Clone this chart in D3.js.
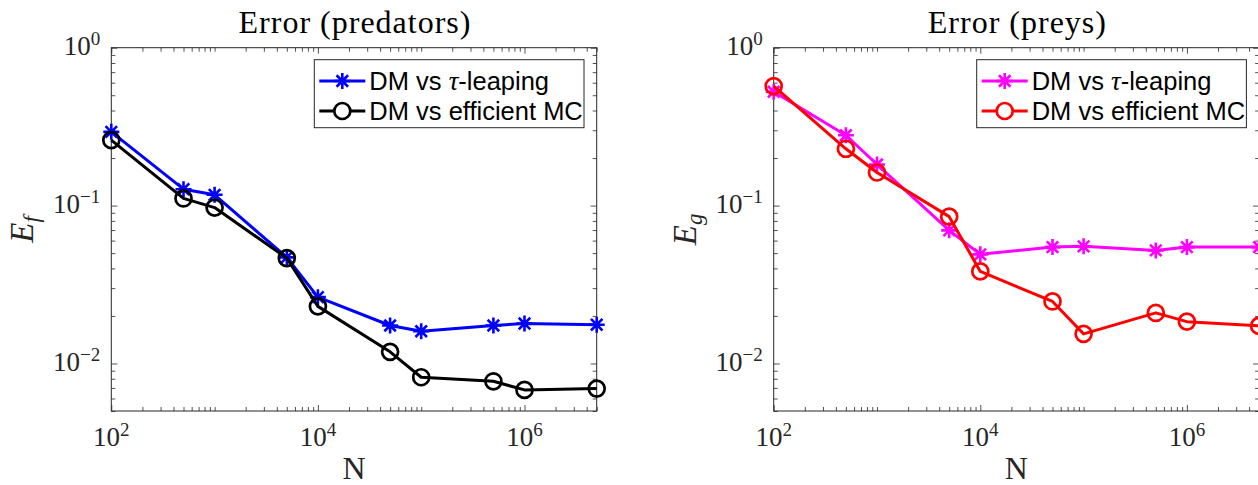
<!DOCTYPE html>
<html><head><meta charset="utf-8">
<script src="https://cdn.jsdelivr.net/npm/d3@7"></script>
<style>body{margin:0;background:#fff;overflow:hidden} svg{display:block}</style>
</head><body>
<svg id="chart" width="1258" height="485"></svg>
<script>
// ---- data ----
const Nvals = [100, 500, 1000, 5000, 10000, 50000, 100000, 500000, 1000000, 5000000];
const predTau = [0.293, 0.127, 0.117, 0.047, 0.0263, 0.0174, 0.0160, 0.0174, 0.0179, 0.0176];
const predMC  = [0.260, 0.111, 0.0971, 0.0465, 0.0230, 0.01185, 0.00818, 0.00771, 0.0068, 0.00693];
const preyTau = [0.526, 0.279, 0.182, 0.0697, 0.0491, 0.0546, 0.0552, 0.0520, 0.0546, 0.0546];
const preyMC  = [0.571, 0.229, 0.162, 0.0851, 0.0383, 0.0247, 0.0154, 0.0209, 0.0184, 0.0173];
const xMajorTicks = [1e2, 1e4, 1e6];
const xMajorExps = ["2", "4", "6"];
const yMajorTicks = [1, 0.1, 0.01];
const yMajorExps = ["0", "\u22121", "\u22122"];
const titles = ["Error (predators)", "Error (preys)"];
const yLabelSubs = ["f", "g"];
const xLabel = "N";
const legendTau = ["DM vs ", "\u03C4", "-leaping"];
const legendMC = "DM vs efficient MC";
const xDomain = [100, 5e6];
const yDomain = [0.005, 1];

// ---- layout ----
const svg = d3.select("#chart");
const W = 485.4, H = 363.3, top0 = 47.7;
const panels = [
  {x0: 111.3, tau: predTau, mc: predMC, cTau: "#0000ff", cMC: "#000000", title: titles[0], sub: yLabelSubs[0]},
  {x0: 773.7, tau: preyTau, mc: preyMC, cTau: "#ff00ff", cMC: "#ff0000", title: titles[1], sub: yLabelSubs[1]}
];
const axisColor = "#262626";
const serif = "'Liberation Serif', 'Times New Roman', serif";
const sans = "'Liberation Sans', Arial, Helvetica, sans-serif";

const x = d3.scaleLog().domain(xDomain).range([0, W]);
const y = d3.scaleLog().domain(yDomain).range([H, 0]);

const xMinor = [];
for (let k = 2; k <= 6; k++) for (let m = 1; m <= 9; m++) {
  const v = m * Math.pow(10, k);
  if (v <= xDomain[1] * 1.0001 && !xMajorTicks.some(t => Math.abs(t - v) / v < 1e-6)) xMinor.push(v);
}
const yMinor = [];
for (let k = -3; k <= -1; k++) for (let m = 1; m <= 9; m++) {
  const v = m * Math.pow(10, k);
  if (v >= yDomain[0] * 0.9999 && v <= 1 && !yMajorTicks.some(t => Math.abs(t - v) / v < 1e-6)) yMinor.push(v);
}

function starPath(r) {
  const d = r * 0.72;
  return `M${-r},0L${r},0M0,${-r}L0,${r}M${-d},${-d}L${d},${d}M${-d},${d}L${d},${-d}`;
}
const starR = 8, circR = 8, lw = 3;

panels.forEach(p => {
  const g = svg.append("g").attr("transform", `translate(${p.x0},${top0})`);

  g.append("rect").attr("width", W).attr("height", H).attr("fill", "#fff");

  const mk = (gen, tr) => {
    const a = g.append("g").attr("transform", tr).call(gen);
    a.select(".domain").remove();
    a.selectAll("line").attr("stroke", axisColor).attr("stroke-width", 0.8);
    a.selectAll("text").remove();
  };
  mk(d3.axisBottom(x).tickValues(xMajorTicks).tickSizeInner(-6).tickSizeOuter(0).tickFormat(""), `translate(0,${H})`);
  mk(d3.axisBottom(x).tickValues(xMinor).tickSizeInner(-4).tickSizeOuter(0).tickFormat(""), `translate(0,${H})`);
  mk(d3.axisTop(x).tickValues(xMajorTicks).tickSizeInner(-6).tickSizeOuter(0).tickFormat(""), `translate(0,0)`);
  mk(d3.axisTop(x).tickValues(xMinor).tickSizeInner(-4).tickSizeOuter(0).tickFormat(""), `translate(0,0)`);
  mk(d3.axisLeft(y).tickValues(yMajorTicks).tickSizeInner(-6).tickSizeOuter(0).tickFormat(""), `translate(0,0)`);
  mk(d3.axisLeft(y).tickValues(yMinor).tickSizeInner(-4).tickSizeOuter(0).tickFormat(""), `translate(0,0)`);
  mk(d3.axisRight(y).tickValues(yMajorTicks).tickSizeInner(-6).tickSizeOuter(0).tickFormat(""), `translate(${W},0)`);
  mk(d3.axisRight(y).tickValues(yMinor).tickSizeInner(-4).tickSizeOuter(0).tickFormat(""), `translate(${W},0)`);

  g.append("rect").attr("width", W).attr("height", H).attr("fill", "none")
    .attr("stroke", axisColor).attr("stroke-width", 1);

  xMajorTicks.forEach((t, i) => {
    const tx = g.append("text").attr("x", x(t)).attr("y", H + 35)
      .attr("text-anchor", "middle").attr("font-family", serif).attr("font-size", 27).attr("fill", axisColor);
    tx.append("tspan").text("10");
    tx.append("tspan").attr("dy", -10).attr("font-size", 19).text(xMajorExps[i]);
  });
  yMajorTicks.forEach((t, i) => {
    const tx = g.append("text").attr("x", -11).attr("y", y(t) + 7.4)
      .attr("text-anchor", "end").attr("font-family", serif).attr("font-size", 27).attr("fill", axisColor);
    tx.append("tspan").text("10");
    tx.append("tspan").attr("dy", -10).attr("font-size", 19).text(yMajorExps[i]);
  });

  g.append("text").attr("x", W / 2 + 1).attr("y", -15).attr("text-anchor", "middle")
    .attr("font-family", serif).attr("font-size", 32).attr("letter-spacing", 1).attr("fill", "#000").text(p.title);
  g.append("text").attr("x", W / 2).attr("y", 431).attr("text-anchor", "middle")
    .attr("font-family", serif).attr("font-size", 32).attr("fill", axisColor).text(xLabel);
  const yl = g.append("text").attr("transform", `translate(${-78},${H / 2}) rotate(-90)`)
    .attr("text-anchor", "middle").attr("font-family", serif).attr("font-style", "italic")
    .attr("font-size", 33).attr("fill", axisColor);
  yl.append("tspan").text("E");
  yl.append("tspan").attr("dy", 6).attr("font-size", 23).text(p.sub);

  const line = d3.line().x((d, i) => x(Nvals[i])).y(d => y(d));
  g.append("path").datum(p.tau).attr("d", line).attr("fill", "none")
    .attr("stroke", p.cTau).attr("stroke-width", lw).attr("stroke-linejoin", "round");
  g.selectAll(null).data(p.tau).enter().append("path")
    .attr("transform", (d, i) => `translate(${x(Nvals[i])},${y(d)})`)
    .attr("d", starPath(starR)).attr("fill", "none").attr("stroke", p.cTau).attr("stroke-width", 2.6);
  g.append("path").datum(p.mc).attr("d", line).attr("fill", "none")
    .attr("stroke", p.cMC).attr("stroke-width", lw).attr("stroke-linejoin", "round");
  g.selectAll(null).data(p.mc).enter().append("circle")
    .attr("cx", (d, i) => x(Nvals[i])).attr("cy", d => y(d)).attr("r", circR)
    .attr("fill", "none").attr("stroke", p.cMC).attr("stroke-width", 2.7);

  // legend
  const lg = g.append("g").attr("transform", `translate(${W - 12.7 - 269.7},12)`);
  lg.append("rect").attr("width", 269.7).attr("height", 68).attr("fill", "#fff")
    .attr("stroke", axisColor).attr("stroke-width", 1);
  const rows = [21.3, 51.3];
  lg.append("line").attr("x1", 5).attr("x2", 51).attr("y1", rows[0]).attr("y2", rows[0])
    .attr("stroke", p.cTau).attr("stroke-width", lw);
  lg.append("path").attr("transform", `translate(28,${rows[0]})`).attr("d", starPath(starR))
    .attr("fill", "none").attr("stroke", p.cTau).attr("stroke-width", 2.6);
  const t1 = lg.append("text").attr("x", 55).attr("y", rows[0] + 9)
    .attr("font-family", sans).attr("font-size", 25.5).attr("fill", "#000");
  t1.append("tspan").text(legendTau[0]);
  t1.append("tspan").attr("font-family", serif).attr("font-style", "italic").attr("font-size", 27).text(legendTau[1]);
  t1.append("tspan").text(legendTau[2]);
  lg.append("line").attr("x1", 5).attr("x2", 51).attr("y1", rows[1]).attr("y2", rows[1])
    .attr("stroke", p.cMC).attr("stroke-width", lw);
  lg.append("circle").attr("cx", 28).attr("cy", rows[1]).attr("r", circR)
    .attr("fill", "#fff").attr("stroke", p.cMC).attr("stroke-width", 2.7);
  lg.append("text").attr("x", 55).attr("y", rows[1] + 9)
    .attr("font-family", sans).attr("font-size", 25.5).attr("fill", "#000").text(legendMC);
});
</script>
</body></html>
